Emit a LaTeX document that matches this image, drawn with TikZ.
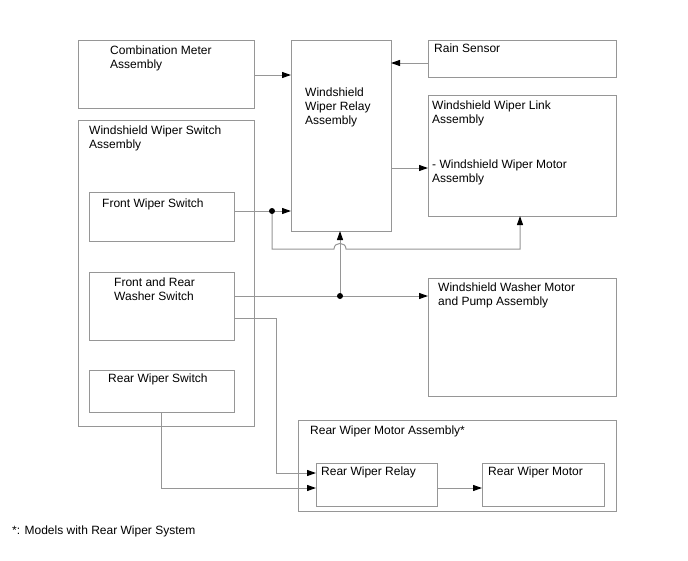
\documentclass[tikz,border=0pt]{standalone}
\usepackage{fontspec}
\setmainfont{Liberation Sans}
\usetikzlibrary{arrows.meta}
\definecolor{ln}{RGB}{150,150,150}
\begin{document}
\begin{tikzpicture}[x=1pt,y=-1pt,
  box/.style={draw=ln, line width=1pt, rectangle, inner sep=0pt, outer sep=0pt, anchor=north west},
  lbl/.style={anchor=north west, inner sep=0pt, align=left, font=\fontsize{12}{14}\selectfont},
  wire/.style={draw=ln, line width=1pt},
  arr/.style={wire, -{Triangle[length=9pt,width=6pt,color=black]}},
  jdot/.style={circle, fill=black, inner sep=0pt, minimum size=6pt}]
\useasboundingbox (0,0) rectangle (688,560);
\fill[white] (0,0) rectangle (688,560);

% boxes
\node[box, minimum width=176pt, minimum height=68pt] (cm) at (78,40) {};
\node[box, minimum width=100pt, minimum height=191pt] (relay) at (291,40) {};
\node[box, minimum width=188pt, minimum height=37pt] (rain) at (428,40) {};
\node[box, minimum width=188pt, minimum height=121pt] (link) at (428,95) {};
\node[box, minimum width=176pt, minimum height=306pt] (wsa) at (78,120) {};
\node[box, minimum width=145pt, minimum height=49pt] (fws) at (89,192) {};
\node[box, minimum width=145pt, minimum height=68pt] (frw) at (89,272) {};
\node[box, minimum width=145pt, minimum height=42pt] (rws) at (89,370) {};
\node[box, minimum width=188pt, minimum height=118pt] (wash) at (428,278) {};
\node[box, minimum width=318pt, minimum height=91pt] (rwma) at (298,420) {};
\node[box, minimum width=121pt, minimum height=43pt] (rwr) at (316,463) {};
\node[box, minimum width=122pt, minimum height=43pt] (rwm) at (482,463) {};

% labels
\node[lbl] (tcm) at (110,45.5) {Combination Meter\\Assembly};
\node[lbl] (trelay) at (305,88) {Windshield\\Wiper Relay\\Assembly};
\node[lbl] (train) at (434,44) {Rain Sensor};
\node[lbl] (tlink) at (432,101) {Windshield Wiper Link\\Assembly};
\node[lbl] (tlink2) at (432,159.5) {- Windshield Wiper Motor\\Assembly};
\node[lbl] (twsa) at (89,126) {Windshield Wiper Switch\\Assembly};
\node[lbl] (tfws) at (102,199) {Front Wiper Switch};
\node[lbl] (tfrw) at (114,278) {Front and Rear\\Washer Switch};
\node[lbl] (trws) at (108,373.5) {Rear Wiper Switch};
\node[lbl] (twash) at (438,283) {Windshield Washer Motor\\and Pump Assembly};
\node[lbl] (trwma) at (310,426) {Rear Wiper Motor Assembly*};
\node[lbl] (trwr) at (321,467) {Rear Wiper Relay};
\node[lbl] (trwm) at (488,467) {Rear Wiper Motor};
\node[lbl] (tfoot) at (12,525.5) {*: Models with Rear Wiper System};

% junctions
\coordinate (j1) at (272,211);
\coordinate (j2) at (340,296);

% connectors
\draw[arr] (cm.east |- 0,75) -- (relay.west |- 0,75);
\draw[arr] (rain.west |- 0,63) -- (relay.east |- 0,63);
\draw[arr] (relay.east |- 0,168) -- (link.west |- 0,168);
\draw[arr] (fws.east |- j1) -- (relay.west |- j1);
\draw[arr] (j1) -- (272,249) -- (334,249) .. controls (334,241.5) and (346,241.5) .. (346,249) -- (520,249) -- (link.south -| 520,0);
\draw[arr] (frw.east |- j2) -- (wash.west |- j2);
\draw[arr] (j2) -- (relay.south -| j2);
\draw[arr] (frw.east |- 0,318) -- (276,318) -- (276,473) -- (rwr.west |- 0,473);
\draw[arr] (rws.south -| 161,0) -- (161,488) -- (rwr.west |- 0,488);
\draw[arr] (rwr.east |- 0,488) -- (rwm.west |- 0,488);

\node[jdot] (d1) at (j1) {};
\node[jdot] (d2) at (j2) {};
\end{tikzpicture}
\end{document}
